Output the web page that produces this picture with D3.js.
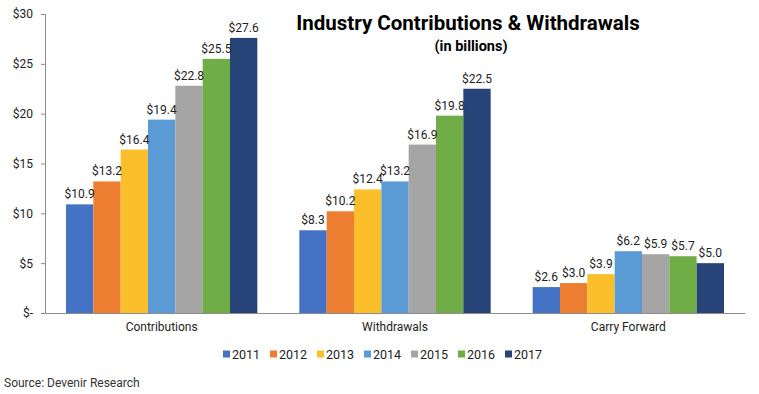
<!DOCTYPE html>
<html>
<head>
<meta charset="utf-8">
<script src="https://cdn.jsdelivr.net/npm/d3@7"></script>
<style>
  body { margin: 0; background: #fff; }
  svg { display: block; font-family: Roboto, "Noto Sans", sans-serif; }
</style>
</head>
<body>
<div id="chart"></div>
<script>
// chart data
const categories = ["Contributions", "Withdrawals", "Carry Forward"];
const years = ["2011", "2012", "2013", "2014", "2015", "2016", "2017"];
const contributions = [10.9, 13.2, 16.4, 19.4, 22.8, 25.5, 27.6];
const withdrawals = [8.3, 10.2, 12.4, 13.2, 16.9, 19.8, 22.5];
const carryForward = [2.6, 3.0, 3.9, 6.2, 5.9, 5.7, 5.0];
const yTicks = [0, 5, 10, 15, 20, 25, 30];
const colors = ["#4472C4", "#ED7D31", "#FBBF2C", "#5B9BD5", "#A5A5A5", "#70AD47", "#264478"];

const seriesByCategory = [contributions, withdrawals, carryForward];

const width = 759;
const height = 394;
const margin = { top: 14, right: 14, bottom: 81, left: 45 };

const svg = d3.select("#chart")
  .append("svg")
  .attr("width", width)
  .attr("height", height);

const x0 = d3.scaleBand()
  .domain(categories)
  .range([margin.left, width - margin.right])
  .paddingInner(0.18)
  .paddingOuter(0.09);

const x1 = d3.scaleBand()
  .domain(years)
  .range([0, x0.bandwidth()]);

const y = d3.scaleLinear()
  .domain([0, 30])
  .range([height - margin.bottom, margin.top]);

const color = d3.scaleOrdinal().domain(years).range(colors);

// y axis
const yAxis = d3.axisLeft(y)
  .tickValues(yTicks)
  .tickSize(4)
  .tickPadding(8)
  .tickFormat(d => d === 0 ? "$-" : "$" + d);

const gy = svg.append("g")
  .attr("transform", `translate(${margin.left},0)`)
  .call(yAxis);
gy.select(".domain").attr("stroke", "#8c8c8c");
gy.selectAll(".tick line").attr("stroke", "#8c8c8c");
gy.selectAll(".tick text").attr("font-size", 12).attr("fill", "#222")
  .attr("font-family", "Roboto, sans-serif");

// bars
const groups = svg.append("g")
  .selectAll("g")
  .data(categories)
  .join("g")
  .attr("transform", d => `translate(${x0(d)},0)`);

groups.selectAll("rect")
  .data((d, i) => seriesByCategory[i].map((v, j) => ({ year: years[j], value: v })))
  .join("rect")
  .attr("x", d => x1(d.year))
  .attr("y", d => y(d.value))
  .attr("width", x1.bandwidth())
  .attr("height", d => y(0) - y(d.value))
  .attr("fill", d => color(d.year));

groups.selectAll("text")
  .data((d, i) => seriesByCategory[i].map((v, j) => ({ year: years[j], value: v })))
  .join("text")
  .attr("x", d => x1(d.year) + x1.bandwidth() / 2)
  .attr("y", d => y(d.value) - 6)
  .attr("text-anchor", "middle")
  .attr("font-size", 12)
  .attr("fill", "#222")
  .text(d => "$" + d.value.toFixed(1));

// x axis
const xAxis = d3.axisBottom(x0).tickSize(0).tickPadding(9);
const gx = svg.append("g")
  .attr("transform", `translate(0,${y(0)})`)
  .call(xAxis);
gx.select(".domain").attr("stroke", "#8c8c8c");
gx.selectAll(".tick text").attr("font-size", 12).attr("fill", "#222")
  .attr("font-family", "Roboto, sans-serif");

// title
svg.append("text")
  .attr("x", 468)
  .attr("y", 30)
  .attr("text-anchor", "middle")
  .attr("font-size", 20.5)
  .attr("font-weight", "bold")
  .attr("fill", "#000")
  .text("Industry Contributions & Withdrawals");

svg.append("text")
  .attr("x", 471)
  .attr("y", 51)
  .attr("text-anchor", "middle")
  .attr("font-size", 14.5)
  .attr("font-weight", "bold")
  .attr("fill", "#000")
  .text("(in billions)");

// legend
const legendX = d3.scaleBand()
  .domain(years)
  .range([223, 223 + 47 * years.length]);

const legend = svg.append("g")
  .selectAll("g")
  .data(years)
  .join("g")
  .attr("transform", d => `translate(${legendX(d)},354)`);

legend.append("rect")
  .attr("x", 0)
  .attr("y", -3.5)
  .attr("width", 7)
  .attr("height", 7)
  .attr("fill", d => color(d));

legend.append("text")
  .attr("x", 9)
  .attr("y", 4.5)
  .attr("font-size", 12.5)
  .attr("fill", "#222")
  .text(d => d);

// source
svg.append("text")
  .attr("x", 4)
  .attr("y", 387)
  .attr("font-size", 12)
  .attr("fill", "#333")
  .text("Source: Devenir Research");
</script>
</body>
</html>
